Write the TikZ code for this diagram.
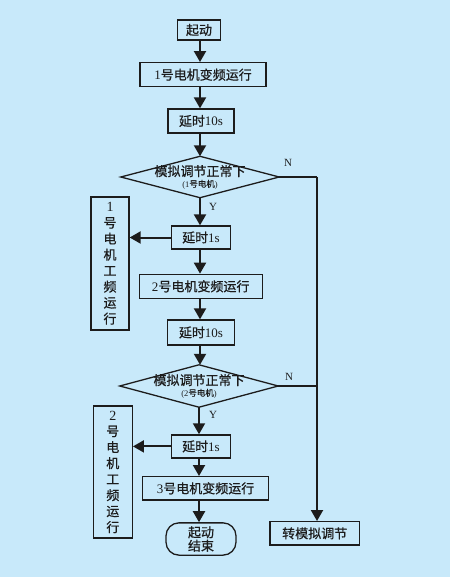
\documentclass[tikz,border=0pt]{standalone}
\usepackage{fontspec}
\setmainfont{Liberation Serif}
\newfontfamily\cjk[FakeBold=0.6]{Noto Sans CJK SC}
\usetikzlibrary{arrows.meta}
\definecolor{bg}{RGB}{200,233,250}
\definecolor{ink}{RGB}{28,28,28}
\begin{document}
\begin{tikzpicture}[x=1pt,y=-1pt,
  box/.style={draw=ink,line width=1.3pt,rectangle,inner sep=0pt,text=ink,
    font=\fontsize{13}{14}\selectfont},
  vbox/.style={box,align=center,font=\cjk\fontsize{13}{16}\selectfont},
  dia/.style={rectangle,inner sep=0pt,text=ink,align=center,
    minimum width=158pt,minimum height=41pt},
  dline/.style={draw=ink,line width=1.3pt,line join=miter},
  arr/.style={draw=ink,line width=2pt,-{Triangle[length=11pt,width=12pt]}},
  ln/.style={draw=ink,line width=2pt},
  lbl/.style={text=ink,font=\fontsize{11}{12}\selectfont,inner sep=0pt}]
\fill[bg] (0,0) rectangle (450,577);
\useasboundingbox (0,0) rectangle (450,577);

% main column
\node[box,minimum width=43pt,minimum height=20pt] (start) at (199,30) {\cjk 起动};
\node[box,minimum width=126pt,minimum height=24pt] (m1) at (203,74.7) {1\cjk 号电机变频运行};
\node[box,minimum width=66pt,minimum height=24pt] (d1) at (201,121) {{\cjk 延时}10s};
\node[dia] (q1) at (200,177) {{\cjk\fontsize{13}{13}\selectfont 模拟调节正常下}\\[-1pt]
  {\fontsize{8.5}{9}\selectfont (1{\cjk 号电机})}};
\draw[dline] (q1.north) -- (q1.east) -- (q1.south) -- (q1.west) -- cycle;
\node[box,minimum width=59pt,minimum height=23pt] (t1) at (201,237.5) {{\cjk 延时}1s};
\node[vbox,minimum width=38pt,minimum height=133pt] (L1) at (110,263.5)
  {{\rmfamily\fontsize{14}{16}\selectfont 1}\\号\\电\\机\\工\\频\\运\\行};
\node[box,minimum width=123pt,minimum height=24pt] (m2) at (200.7,286.3) {2\cjk 号电机变频运行};
\node[box,minimum width=66.6pt,minimum height=25pt] (d2) at (201,332.5) {{\cjk 延时}10s};
\node[dia,minimum height=42pt] (q2) at (199,386) {{\cjk\fontsize{13}{13}\selectfont 模拟调节正常下}\\[-1pt]
  {\fontsize{8.5}{9}\selectfont (2{\cjk 号电机})}};
\draw[dline] (q2.north) -- (q2.east) -- (q2.south) -- (q2.west) -- cycle;
\node[box,minimum width=59pt,minimum height=23pt] (t2) at (201,446.4) {{\cjk 延时}1s};
\node[vbox,minimum width=39pt,minimum height=132pt] (L2) at (112.8,472)
  {{\rmfamily\fontsize{14}{16}\selectfont 2}\\号\\电\\机\\工\\频\\运\\行};
\node[box,minimum width=125.6pt,minimum height=23.3pt] (m3) at (205.5,488.3) {3\cjk 号电机变频运行};
\node[box,rounded corners=13pt,align=center,minimum width=70pt,minimum height=32.3pt,
  font=\cjk\fontsize{13}{13.5}\selectfont] (fin) at (201,539) {起动\\结束};
\node[box,minimum width=89.3pt,minimum height=23.3pt] (sw) at (314.7,533.3) {\cjk 转模拟调节};

\coordinate (nc) at (317,177);

% labels
\node[lbl] (n1) at (288,163) {N};
\node[lbl] (n2) at (289,377) {N};
\node[lbl] (y1) at (213,207) {Y};
\node[lbl] (y2) at (213,415) {Y};

% connectors
\draw[arr] (start.south -| q1.north) -- (q1.north |- m1.north);
\draw[arr] (m1.south -| q1.north) -- (q1.north |- d1.north);
\draw[arr] (d1.south -| q1.north) -- (q1.north);
\draw[arr] (q1.south) -- (q1.south |- t1.north);
\draw[arr] (t1.south -| q1.south) -- (q1.south |- m2.north);
\draw[arr] (m2.south -| q1.south) -- (q1.south |- d2.north);
\draw[arr] (d2.south -| q1.south) -- (q1.south |- q2.north);
\draw[arr] (q2.south) -- (q2.south |- t2.north);
\draw[arr] (t2.south -| q2.south) -- (q2.south |- m3.north);
\draw[arr] (m3.south -| q2.south) -- (q2.south |- fin.north);
\draw[arr] (t1.west) -- (L1.east |- t1.west);
\draw[arr] (t2.west) -- (L2.east |- t2.west);
\draw[ln] (q1.east) -- (nc);
\draw[arr] (nc) -- (nc |- sw.north);
\draw[ln] (q2.east) -- (nc |- q2.east);
\end{tikzpicture}
\end{document}
